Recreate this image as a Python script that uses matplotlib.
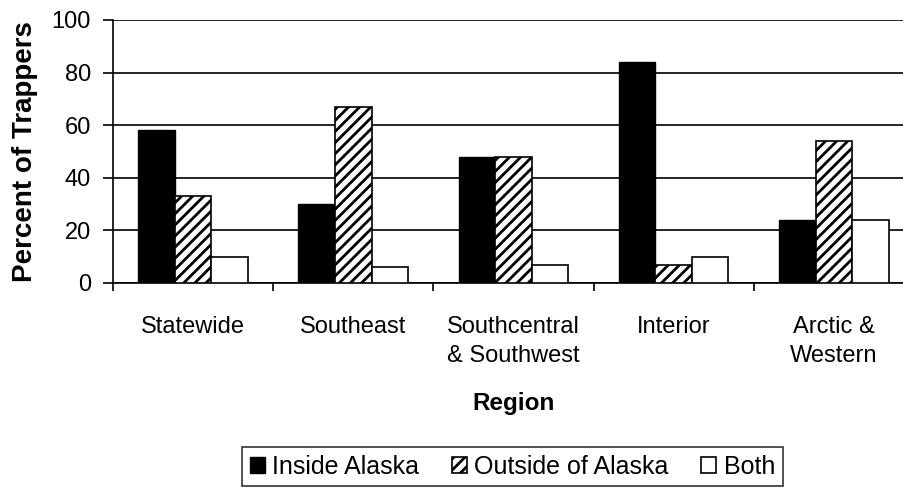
import numpy as np
import matplotlib.pyplot as plt

plt.rcParams['font.family'] = ['Liberation Sans', 'DejaVu Sans']
plt.rcParams['hatch.linewidth'] = 2.0

regions = ['Statewide', 'Southeast', 'Southcentral\n& Southwest', 'Interior', 'Arctic &\nWestern']
inside = [58, 30, 48, 84, 24]
outside = [33, 67, 48, 7, 54]
both = [10, 6, 7, 10, 24]

fig = plt.figure(figsize=(9.04, 4.87), dpi=100)
ax = fig.add_axes([0.125, 0.419, 1.011 - 0.125, 0.959 - 0.419])

x = np.arange(len(regions)) + 0.5
w = 0.228
ax.bar(x - w, inside, w, color='black', edgecolor='black', label='Inside Alaska', zorder=3)
ax.bar(x, outside, w, color='white', edgecolor='black', hatch='///', linewidth=1.2,
       label='Outside of Alaska', zorder=3)
ax.bar(x + w, both, w, color='white', edgecolor='black', linewidth=1.2, label='Both', zorder=3)

ax.set_xlim(0, len(regions))
ax.set_ylim(0, 100)
ax.set_yticks([0, 20, 40, 60, 80, 100])
ax.yaxis.grid(True, color='black', linewidth=1.2, zorder=0)
ax.tick_params(axis='y', labelsize=17, length=7, width=1.2, direction='out', pad=9)

# tick marks between groups, labels at group centres
ax.set_xticks(np.arange(len(regions) + 1))
ax.set_xticklabels([])
ax.tick_params(axis='x', which='major', length=6, width=1.2, direction='out')
ax.set_xticks(x, minor=True)
ax.set_xticklabels(regions, minor=True, fontsize=17, linespacing=1.4)
ax.tick_params(axis='x', which='minor', length=0, pad=24)

for s in ['top', 'right']:
    ax.spines[s].set_visible(False)
ax.spines['left'].set_linewidth(1.2)
ax.spines['bottom'].set_linewidth(1.2)

ax.set_ylabel('Percent of Trappers', fontsize=20, fontweight='bold', labelpad=10)
ax.set_xlabel('Region', fontsize=17.5, fontweight='bold', labelpad=18)

leg = fig.legend(loc='upper center', bbox_to_anchor=(0.567, 0.082), ncol=3, fontsize=18,
                 frameon=True, fancybox=False, edgecolor='black', handlelength=0.6,
                 handleheight=0.6, handletextpad=0.3, columnspacing=1.3, borderpad=0.3,
                 borderaxespad=0)
leg.get_frame().set_linewidth(1.2)

fig.savefig('out.png', dpi=100)
